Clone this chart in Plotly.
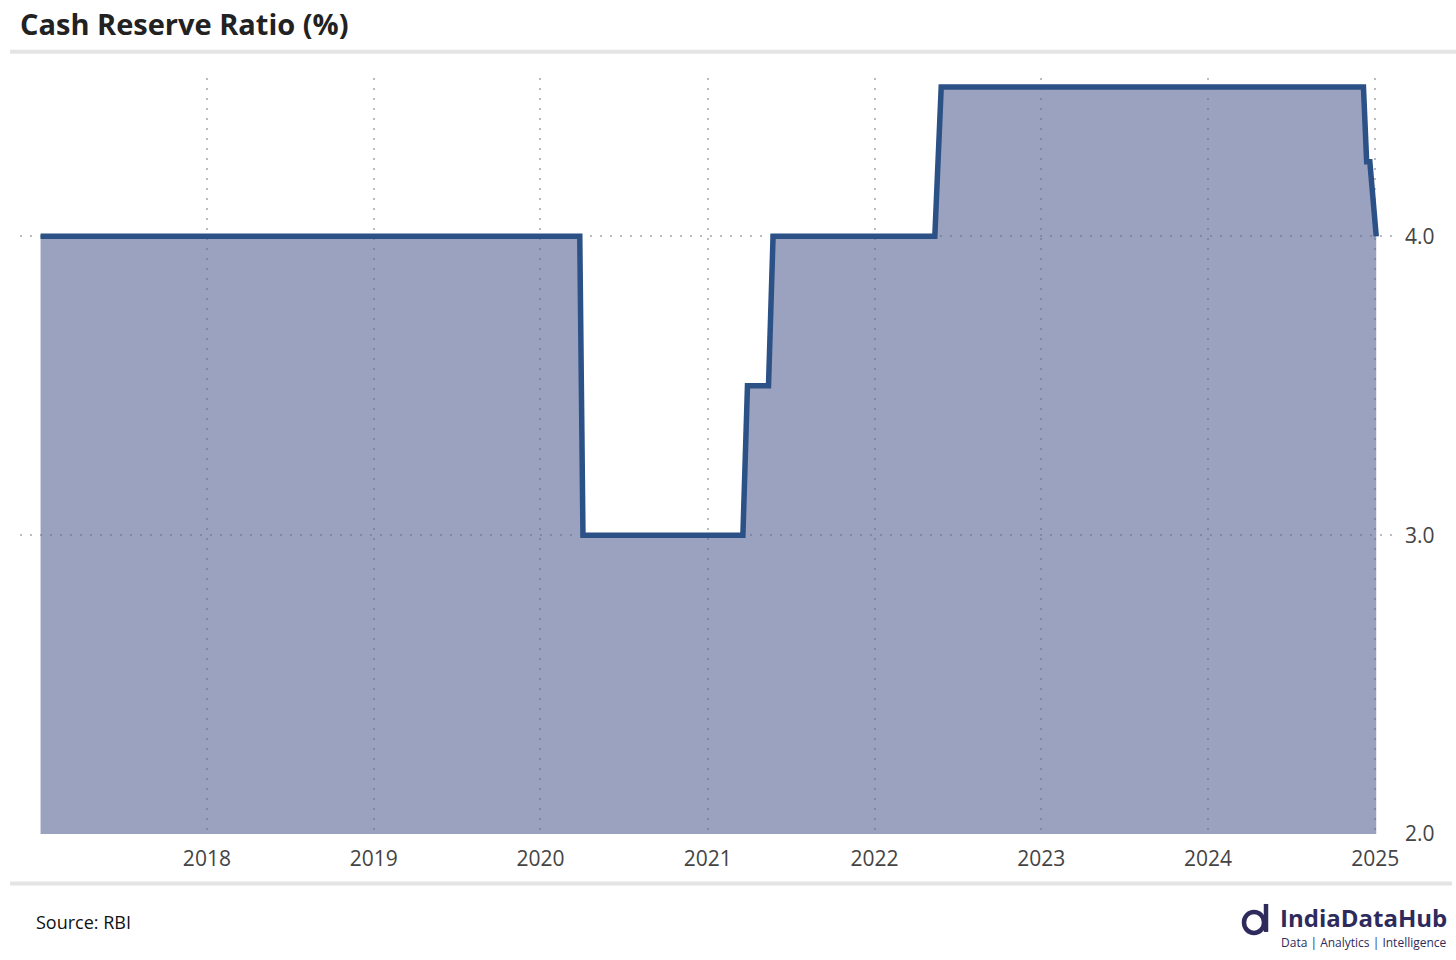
import plotly.graph_objects as go

# ---- data (vertices of the CRR series) ----
dates = ["2017-01-02", "2020-03-27", "2020-04-03", "2021-03-19", "2021-03-29",
         "2021-05-14", "2021-05-24", "2022-05-13", "2022-05-27", "2024-12-06",
         "2024-12-13", "2024-12-20", "2025-01-03"]
crr = [4.0, 4.0, 3.0, 3.0, 3.5, 3.5, 4.0, 4.0, 4.5, 4.5, 4.25, 4.25, 4.0]

year_ticks = ["2018-01-01", "2019-01-01", "2020-01-01", "2021-01-01",
              "2022-01-01", "2023-01-01", "2024-01-01", "2025-01-01"]
year_labels = ["2018", "2019", "2020", "2021", "2022", "2023", "2024", "2025"]
y_ticks = [2.0, 3.0, 4.0]
y_labels = ["2.0", "3.0", "4.0"]

W, H = 1456, 960
L, R, T, B = 20, 56, 77.5, 126
PW, PH = W - L - R, H - T - B


def px(x):
    return (x - L) / PW


def py(y):
    return (H - B - y) / PH


FONT = "Open Sans"

fig = go.Figure()
fig.add_trace(go.Scatter(
    x=dates, y=crr, mode="lines",
    line=dict(color="#2b5186", width=5.5),
    fill="tozeroy", fillcolor="rgba(88,100,148,0.6)",
    hoverinfo="skip", showlegend=False,
))

grid = dict(showgrid=True, gridcolor="#bcbcbc", gridwidth=2, griddash="2px,8px")

fig.update_layout(
    width=W, height=H,
    margin=dict(l=L, r=R, t=T, b=B),
    paper_bgcolor="white", plot_bgcolor="white",
    font=dict(family=FONT, color="#444444", size=21),
    xaxis=dict(type="date", range=["2016-11-18", "2025-02-24"],
               tickvals=year_ticks, ticktext=year_labels,
               zeroline=False, showline=False, ticks="",
               ticklabelstandoff=10,
               tickfont=dict(size=21, color="#444444"), **grid),
    yaxis=dict(range=[2.0, 4.53], side="right",
               tickvals=y_ticks, ticktext=y_labels,
               zeroline=False, showline=False, ticks="",
               ticklabelstandoff=4,
               tickfont=dict(size=21, color="#444444"), **grid),
)

shapes = []
# separators
shapes.append(dict(type="line", xref="paper", yref="paper",
                   x0=px(10), x1=px(1456), y0=py(51.3), y1=py(51.3),
                   line=dict(color="#e4e4e4", width=4)))
shapes.append(dict(type="line", xref="paper", yref="paper",
                   x0=px(10), x1=px(1452), y0=py(883.5), y1=py(883.5),
                   line=dict(color="#e4e4e4", width=4)))
# logo icon
shapes.append(dict(type="circle", xref="paper", yref="paper",
                   x0=px(1244), x1=px(1264), y0=py(912), y1=py(933),
                   line=dict(color="#2e2b5c", width=4.5)))
shapes.append(dict(type="line", xref="paper", yref="paper",
                   x0=px(1266), x1=px(1266), y0=py(904), y1=py(932),
                   line=dict(color="#2e2b5c", width=4.5)))
fig.update_layout(shapes=shapes)

ann = []
ann.append(dict(text="<b>Cash Reserve Ratio (%)</b>", xref="paper", yref="paper",
                x=px(18), y=py(23), xanchor="left", yanchor="middle", showarrow=False,
                font=dict(family=FONT, size=29, color="#222222")))
ann.append(dict(text="Source: RBI", xref="paper", yref="paper",
                x=px(34), y=py(922), xanchor="left", yanchor="middle", showarrow=False,
                font=dict(family=FONT, size=18, color="#111111")))
ann.append(dict(text="<b>IndiaDataHub</b>", xref="paper", yref="paper",
                x=px(1449), y=py(918), xanchor="right", yanchor="middle", showarrow=False,
                font=dict(family=FONT, size=24, color="#2e2b5c")))
ann.append(dict(text="Data | Analytics | Intelligence", xref="paper", yref="paper",
                x=px(1449), y=py(943), xanchor="right", yanchor="middle", showarrow=False,
                font=dict(family=FONT, size=12, color="#2e2b5c")))
fig.update_layout(annotations=ann)

fig.write_html("out.html", config={"displayModeBar": False},
               post_script="document.body.style.margin='0';")
